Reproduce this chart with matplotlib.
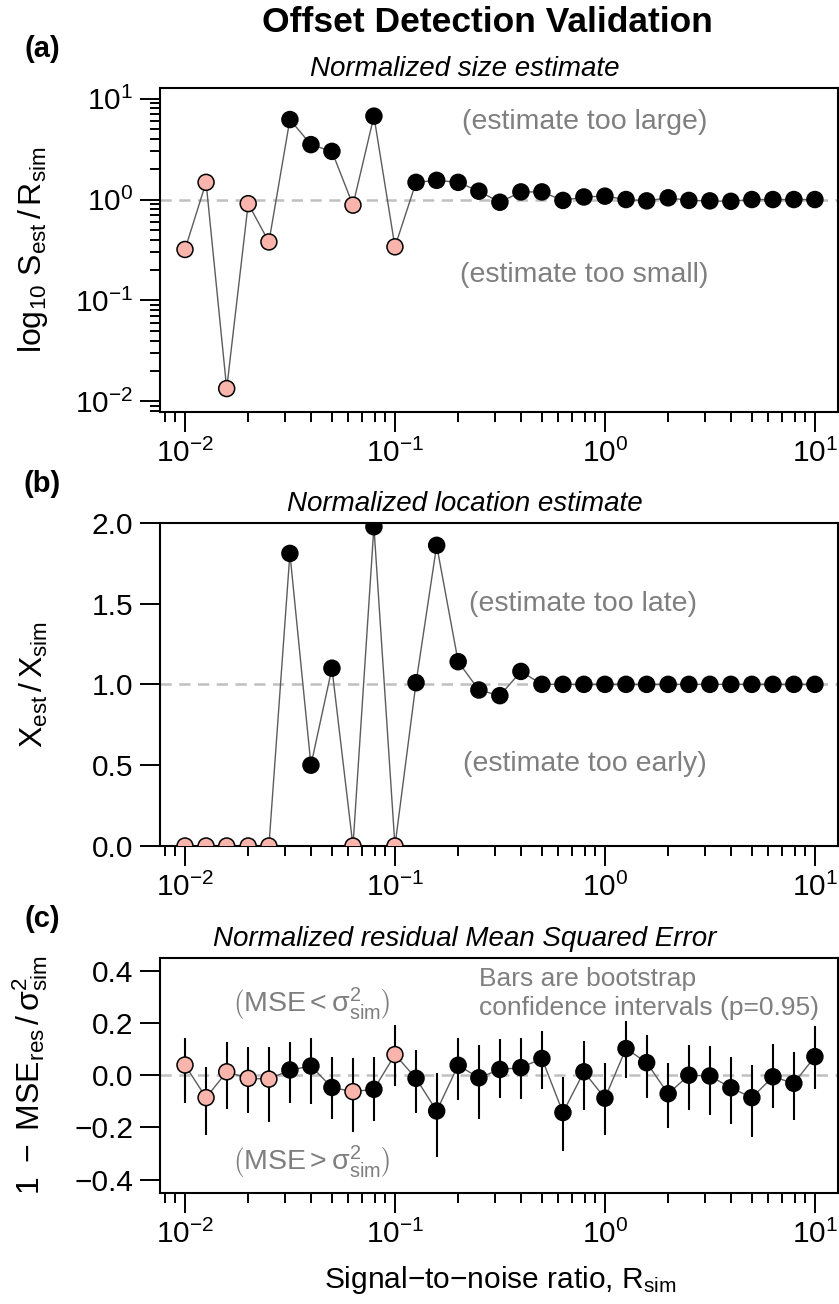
import numpy as np
import matplotlib
matplotlib.use('Agg')
import matplotlib.pyplot as plt
from matplotlib.ticker import LogLocator, FixedLocator, NullFormatter, FuncFormatter

plt.rcParams['font.family'] = ['Liberation Sans', 'DejaVu Sans']
plt.rcParams['mathtext.fontset'] = 'custom'
plt.rcParams['mathtext.rm'] = 'Liberation Sans'
plt.rcParams['mathtext.it'] = 'Liberation Sans:italic'
plt.rcParams['mathtext.bf'] = 'Liberation Sans:bold'
plt.rcParams['mathtext.default'] = 'regular'

# simulated signal-to-noise ratios
rsim = [0.01, 0.0126, 0.0158, 0.02, 0.0251, 0.0316, 0.0398, 0.0501, 0.0631, 0.0794,
        0.1, 0.126, 0.158, 0.2, 0.251, 0.316, 0.398, 0.501, 0.631, 0.794,
        1.0, 1.26, 1.58, 2.0, 2.51, 3.16, 3.98, 5.01, 6.31, 7.94, 10.0]
# 1 = offset not detected (pink)
failed = [1, 1, 1, 1, 1, 0, 0, 0, 1, 0, 1, 0, 0, 0, 0, 0, 0, 0, 0, 0,
          0, 0, 0, 0, 0, 0, 0, 0, 0, 0, 0]

size_ratio = [0.32, 1.48, 0.0134, 0.91, 0.38, 6.2, 3.5, 3.0, 0.88, 6.7,
              0.34, 1.48, 1.55, 1.48, 1.21, 0.94, 1.19, 1.19, 0.98, 1.06,
              1.08, 1.0, 0.97, 1.04, 0.98, 0.97, 0.96, 1.0, 1.0, 1.0, 1.0]

loc_ratio = [0.0, 0.0, 0.0, 0.0, 0.0, 1.81, 0.50, 1.10, 0.0, 1.975,
             0.0, 1.01, 1.86, 1.14, 0.965, 0.93, 1.08, 1.0, 1.0, 1.0,
             1.0, 1.0, 1.0, 1.0, 1.0, 1.0, 1.0, 1.0, 1.0, 1.0, 1.0]

mse_norm = [0.039, -0.086, 0.013, -0.012, -0.015, 0.020, 0.035, -0.047, -0.063, -0.054,
            0.079, -0.012, -0.137, 0.038, -0.010, 0.022, 0.029, 0.064, -0.143, 0.013,
            -0.088, 0.102, 0.048, -0.071, 0.0, -0.003, -0.048, -0.086, -0.006, -0.031, 0.071]
mse_hi = [0.143, 0.032, 0.127, 0.109, 0.109, 0.127, 0.141, 0.071, 0.067, 0.069,
          0.191, 0.096, 0.010, 0.144, 0.115, 0.137, 0.143, 0.171, -0.006, 0.130,
          0.048, 0.207, 0.153, 0.045, 0.114, 0.111, 0.071, 0.038, 0.118, 0.088, 0.188]
mse_lo = [-0.105, -0.23, -0.128, -0.143, -0.181, -0.108, -0.111, -0.166, -0.219, -0.175,
          -0.041, -0.143, -0.312, -0.095, -0.166, -0.088, -0.092, -0.054, -0.292, -0.133,
          -0.23, -0.010, -0.086, -0.203, -0.133, -0.152, -0.188, -0.235, -0.124, -0.172, -0.054]

PINK = '#F9B5AC'
LINE = '#5c5c5c'
DASH = '#c0c0c0'
NOTE = '#7f7f7f'
FS = 21.5

W, H = 839, 1304
fig = plt.figure(figsize=(W / 100, H / 100), dpi=100)


def pos(l, t, r, b):
    return [l / W, 1 - b / H, (r - l) / W, (b - t) / H]


def style(ax):
    ax.set_xscale('log')
    ax.set_xlim(10 ** -2.119, 10 ** 1.11)
    ax.xaxis.set_major_locator(LogLocator(base=10, numticks=10))
    ax.xaxis.set_minor_locator(LogLocator(base=10, subs=np.arange(2, 10), numticks=20))
    ax.xaxis.set_minor_formatter(NullFormatter())
    ax.tick_params(which='major', direction='out', length=14.4, width=1.4,
                   labelsize=FS, pad=5)
    ax.tick_params(which='minor', direction='out', length=7.5, width=1.4)
    for s in ax.spines.values():
        s.set_linewidth(1.5)


def points(ax, y):
    cols = [PINK if f else 'black' for f in failed]
    ax.plot(rsim, y, color=LINE, lw=1.0, zorder=2)
    ax.scatter(rsim, y, s=132, c=cols, edgecolors='black', linewidths=1.1, zorder=4)


def dec(v, p):
    if abs(v) < 1e-9:
        v = 0.0
    return f'{v:.1f}'.replace('-', '\u2212')


# (a) size
ax1 = fig.add_axes(pos(160, 88, 838, 412))
style(ax1)
ax1.set_yscale('log')
ax1.set_ylim(10 ** -2.105, 10 ** 1.105)
ax1.yaxis.set_major_locator(LogLocator(base=10, numticks=10))
ax1.yaxis.set_minor_locator(LogLocator(base=10, subs=np.arange(2, 10), numticks=20))
ax1.yaxis.set_minor_formatter(NullFormatter())
ax1.tick_params(which='major', direction='out', length=14.4, width=1.4, labelsize=FS, pad=5)
ax1.tick_params(which='minor', direction='out', length=7.5, width=1.4)
ax1.axhline(1, color=DASH, lw=1.8, ls=(0, (4.5, 3)), zorder=1)
points(ax1, size_ratio)
ax1.text(0.8, 5.8, '(estimate too large)', color=NOTE, fontsize=20.5, ha='center', va='center')
ax1.text(0.8, 0.18, '(estimate too small)', color=NOTE, fontsize=20.5, ha='center', va='center')

# (b) location
ax2 = fig.add_axes(pos(160, 522.7, 838, 846))
style(ax2)
ax2.set_ylim(0, 2)
ax2.yaxis.set_major_locator(FixedLocator([0, 0.5, 1, 1.5, 2]))
ax2.yaxis.set_major_formatter(FuncFormatter(dec))
ax2.axhline(1, color=DASH, lw=1.8, ls=(0, (4.5, 3)), zorder=1)
points(ax2, loc_ratio)
ax2.text(0.79, 1.50, '(estimate too late)', color=NOTE, fontsize=20.5, ha='center', va='center')
ax2.text(0.8, 0.51, '(estimate too early)', color=NOTE, fontsize=20.5, ha='center', va='center')

# (c) residual MSE
ax3 = fig.add_axes(pos(160, 957.7, 838, 1192.7))
style(ax3)
ax3.set_ylim(-0.45, 0.45)
ax3.yaxis.set_major_locator(FixedLocator([-0.4, -0.2, 0, 0.2, 0.4]))
ax3.yaxis.set_major_formatter(FuncFormatter(dec))
ax3.axhline(0, color=DASH, lw=1.8, ls=(0, (4.5, 3)), zorder=1)
ax3.plot(rsim, mse_norm, color=LINE, lw=1.0, zorder=2)
ax3.vlines(rsim, mse_lo, mse_hi, color='black', lw=1.5, zorder=3)
ax3.scatter(rsim, mse_norm, s=132, c=[PINK if f else 'black' for f in failed],
            edgecolors='black', linewidths=1.1, zorder=4)
ax3.text(0.04, 0.275, r'$\left(MSE < \sigma^2_{sim}\right)$', color=NOTE, fontsize=20.5,
         ha='center', va='center')
ax3.text(0.04, -0.33, r'$\left(MSE > \sigma^2_{sim}\right)$', color=NOTE, fontsize=20.5,
         ha='center', va='center')
ax3.text(0.25, 0.37, 'Bars are bootstrap', color=NOTE, fontsize=19, ha='left', va='center')
ax3.text(0.25, 0.258, 'confidence intervals (p=0.95)', color=NOTE, fontsize=19,
         ha='left', va='center')

subtitles = ['Normalized size estimate', 'Normalized location estimate',
             'Normalized residual Mean Squared Error']
ylabs = [r'$log_{10}\ S_{est}\,/\,R_{sim}$', r'$X_{est}\,/\,X_{sim}$',
         r'$1\ -\ MSE_{res}\,/\,\sigma^2_{sim}$']
for ax, sub, lab, let in zip([ax1, ax2, ax3], subtitles, ylabs, ['(a)', '(b)', '(c)']):
    b = ax.get_position()
    fig.text(465 / W, b.y1 + 12 / H, sub, style='italic', fontsize=20, ha='center', va='baseline')
    fig.text(50 / W, (b.y0 + b.y1) / 2, lab, rotation=90, ha='right', va='center', fontsize=23)
    fig.text(42 / W, b.y1 + 39 / H, let, fontsize=21, fontweight='bold', ha='center', va='center')

fig.text(487 / W, 1 - 22 / H, 'Offset Detection Validation', fontsize=25.5, fontweight='bold',
         ha='center', va='center')
fig.text(500 / W, 1 - 1280 / H, 'Signal\u2212to\u2212noise ratio, $R_{sim}$', fontsize=FS,
         ha='center', va='center')

fig.savefig('out.png', dpi=100)
